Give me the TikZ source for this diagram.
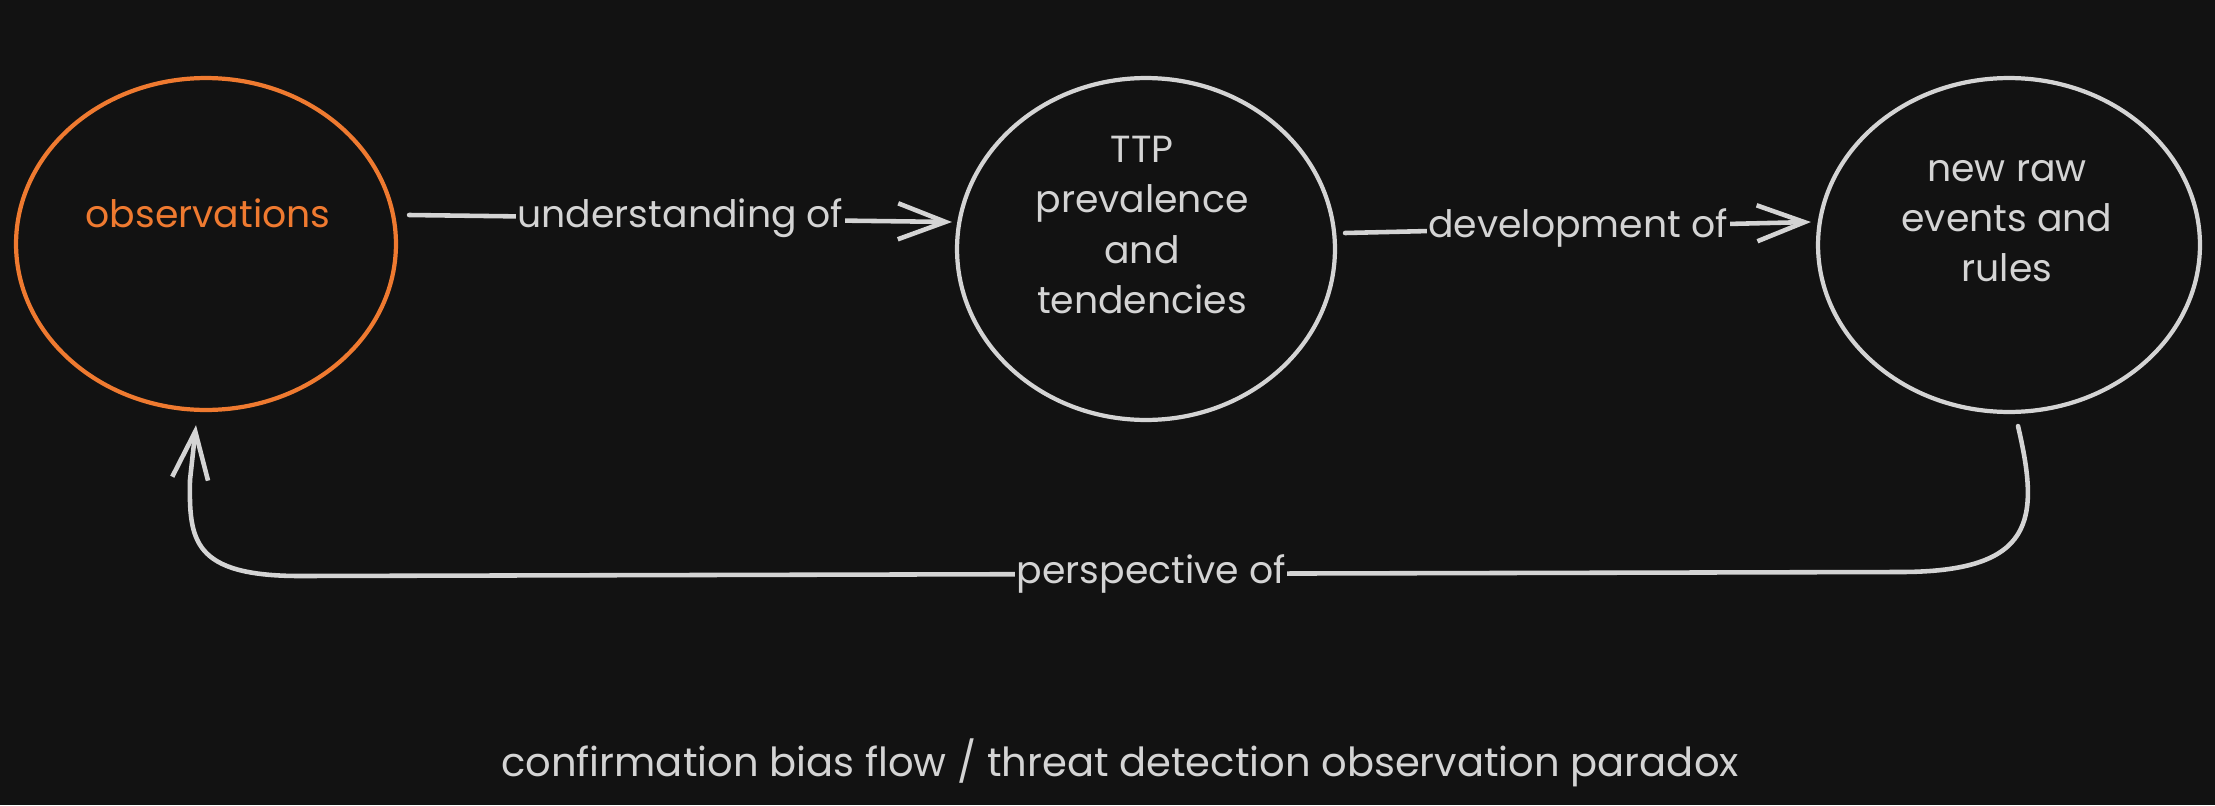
\documentclass[tikz,border=0pt]{standalone}
\usepackage{fontspec}
\setmainfont{Poppins}
\usetikzlibrary{shapes.geometric,arrows.meta,calc}
\definecolor{bg}{HTML}{121212}
\definecolor{fg}{HTML}{D4D4D4}
\definecolor{org}{HTML}{EF7A30}
\tikzset{
  ring/.style={ellipse, draw=fg, line width=2.4pt, inner sep=0pt, minimum width=7.6cm, minimum height=6.7cm},
  txt/.style={text=fg, align=center, font=\fontsize{21.5}{28.5}\selectfont},
  conn/.style={draw=fg, line width=2.6pt, line cap=round, -{Straight Barb[length=0.95cm,width=0.72cm]}},
  lab/.style={fill=bg, text=fg, inner sep=1pt, font=\fontsize{21.5}{24}\selectfont}
}
\begin{document}
\begin{tikzpicture}[x=0.02cm,y=-0.02cm]
\fill[bg] (0,0) rectangle (2215,805);
\useasboundingbox (0,0) rectangle (2215,805);
% nodes
\node[ring, draw=org, minimum width=7.6cm, minimum height=6.64cm] (obs) at (206,244) {};
\node[ring, minimum width=7.56cm, minimum height=6.84cm] (ttp) at (1146,249) {};
\node[ring, minimum width=7.64cm, minimum height=6.68cm] (raw) at (2009,245) {};
\node[txt, text=org] (obst) at (208,213) {observations};
\node[txt] (ttpt) at (1142,225) {TTP\\prevalence\\and\\tendencies};
\node[txt] (rawt) at (2007,221) {new raw\\events and\\rules};
% connectors
\draw[conn] ($(obs.east)+(11,-29)$) -- node[lab, midway] (l1) {understanding of} ($(ttp.west)+(-3,-27)$);
\draw[conn] ($(ttp.east)+(8,-16)$) -- node[lab, midway] (l2) {development of} ($(raw.west)+(-5,-23)$);
\draw[conn] ($(raw.south)+(9,12)$) .. controls (2040,520) and (2035,572) .. (1900,572)
  -- node[lab, pos=0.468] (l3) {perspective of} (300,576)
  .. controls (192,576) and (189,540) .. (190,480) -- ($(obs.south)+(-10,13)$);
% title
\node[txt, font=\fontsize{22.8}{28.5}\selectfont] (title) at (1120,763) {confirmation bias flow / threat detection observation paradox};
\end{tikzpicture}
\end{document}
